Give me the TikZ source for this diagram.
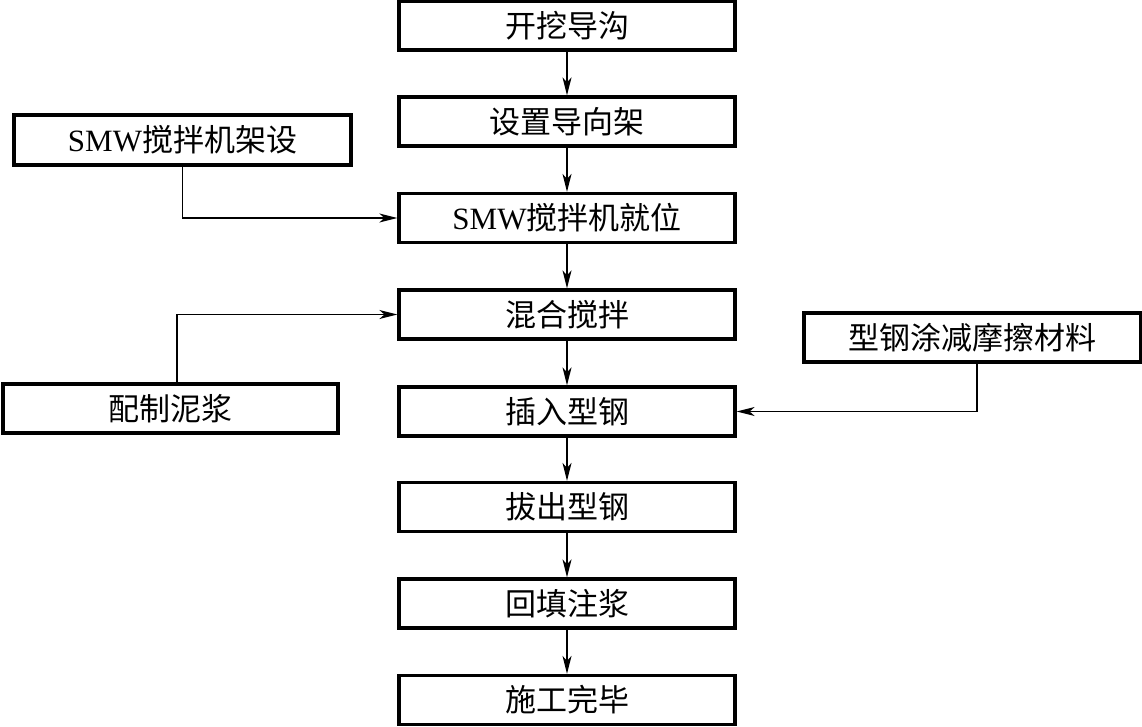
\documentclass[tikz,border=0pt]{standalone}
\usepackage{fontspec}
\setmainfont{Liberation Serif}
\newfontfamily\cjk{Noto Sans CJK SC}
\usetikzlibrary{arrows.meta}
\begin{document}
\begin{tikzpicture}[x=1pt,y=-1pt,
  box/.style={draw,line width=3.2pt,minimum width=336pt,minimum height=49pt,inner sep=0pt,
    font=\fontsize{31}{34}\selectfont\cjk},
  conn/.style={line width=1.4pt,-{Stealth[length=18pt,width=9pt,inset=5pt]}}]
\useasboundingbox (0,0) rectangle (1142,727);
\node[box] (m1) at (567,25.5) {开挖导沟};
\node[box] (m2) at (567,121.5) {设置导向架};
\node[box] (m3) at (567,218) {{\rmfamily SMW}搅拌机就位};
\node[box] (m4) at (567,314.5) {混合搅拌};
\node[box] (m5) at (567,411.5) {插入型钢};
\node[box] (m6) at (567,507) {拔出型钢};
\node[box] (m7) at (567,603.5) {回填注浆};
\node[box] (m8) at (567,700) {施工完毕};
\node[box,minimum width=337pt,minimum height=50pt] (l1) at (182.5,140) {{\rmfamily SMW}搅拌机架设};
\node[box,minimum width=335pt] (l2) at (170.5,408.5) {配制泥浆};
\node[box,minimum width=337pt] (r1) at (972.5,337.5) {型钢涂减摩擦材料};
\foreach \a/\b in {m1/m2,m2/m3,m3/m4,m4/m5,m5/m6,m6/m7,m7/m8}
  \draw[conn] (\a.south) -- (\b.north);
\draw[conn] (l1.south) |- (m3.west);
\draw[conn] ([xshift=6.5pt]l2.north) |- (m4.west);
\draw[conn] ([xshift=4.5pt]r1.south) |- (m5.east);
\end{tikzpicture}
\end{document}
